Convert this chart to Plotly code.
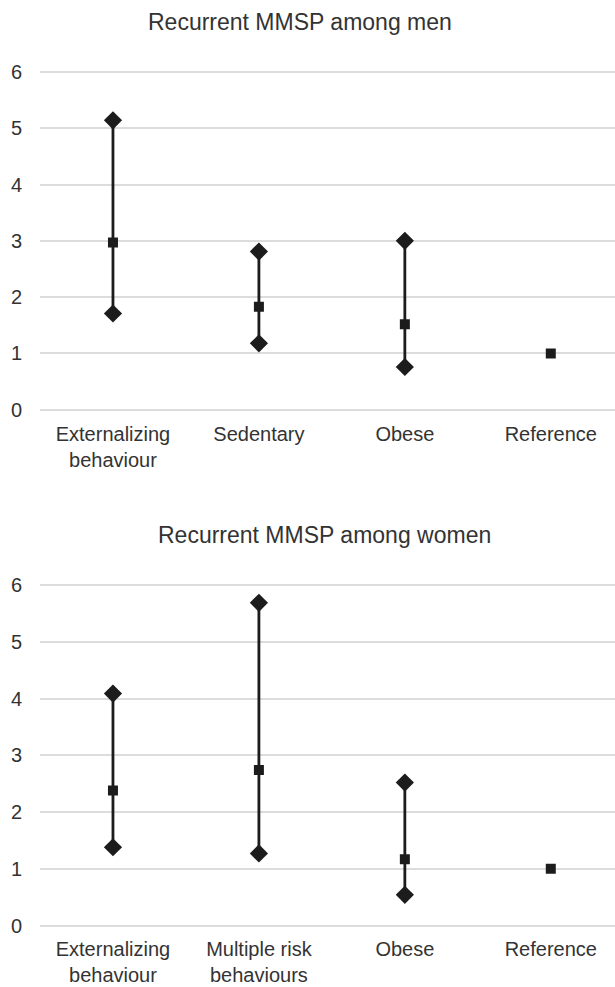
import plotly.graph_objects as go

# ---- data ----
men_categories = ["Externalizing<br>behaviour", "Sedentary", "Obese", "Reference"]
men_or = [2.97, 1.83, 1.52, 1.0]
men_lo = [1.71, 1.18, 0.76, None]
men_hi = [5.14, 2.81, 3.00, None]

women_categories = ["Externalizing<br>behaviour", "Multiple risk<br>behaviours", "Obese", "Reference"]
women_or = [2.38, 2.74, 1.17, 1.0]
women_lo = [1.38, 1.27, 0.54, None]
women_hi = [4.09, 5.69, 2.52, None]

y_ticks = [0, 1, 2, 3, 4, 5, 6]
titles = ["Recurrent MMSP among men", "Recurrent MMSP among women"]

INK = "#1c1c1c"
TXT = "#333333"
GRID = "#dcdcdc"
FONT = "Liberation Sans, Arial, sans-serif"

fig = go.Figure()

panels = [
    (men_categories, men_or, men_lo, men_hi, "x", "y"),
    (women_categories, women_or, women_lo, women_hi, "x2", "y2"),
]

for cats, orv, lo, hi, xa, ya in panels:
    xs = list(range(len(cats)))
    plus = [(h - m) if h is not None else 0 for h, m in zip(hi, orv)]
    minus = [(m - l) if l is not None else 0 for l, m in zip(lo, orv)]
    vis = [h is not None for h in hi]
    # whiskers via error bars
    fig.add_trace(go.Scatter(
        x=xs, y=orv, mode="markers", xaxis=xa, yaxis=ya,
        marker=dict(symbol="square", size=10, color=INK),
        error_y=dict(type="data", symmetric=False, array=plus, arrayminus=minus,
                     color=INK, thickness=2.8, width=0, visible=True),
        showlegend=False, hoverinfo="skip",
    ))
    dx = [x for x, v in zip(xs, vis) if v]
    fig.add_trace(go.Scatter(
        x=dx + dx, y=[l for l in lo if l is not None] + [h for h in hi if h is not None],
        mode="markers", xaxis=xa, yaxis=ya,
        marker=dict(symbol="diamond", size=14, color=INK),
        showlegend=False, hoverinfo="skip",
    ))

H = 987
W_plot = 615 - 40


def fy(px):
    return 1 - px / H


def fx(px):
    return (px - 40) / W_plot


xaxis_common = dict(
    tickmode="array", tickvals=[0, 1, 2, 3],
    range=[-0.5, 3.44], showgrid=False, zeroline=False, showline=False,
    ticks="", ticklabelstandoff=8, automargin=False,
    tickfont=dict(size=20, color=TXT, family=FONT),
)
yaxis_common = dict(
    range=[-0.03, 6.03], tickvals=y_ticks, showgrid=True, gridcolor=GRID, gridwidth=2,
    zeroline=False, showline=False, ticks="", ticklabelstandoff=17, automargin=False,
    tickfont=dict(size=20, color=TXT, family=FONT),
)

fig.update_layout(
    width=615, height=H,
    margin=dict(l=40, r=0, t=0, b=0),
    paper_bgcolor="white", plot_bgcolor="white",
    font=dict(family=FONT, color=TXT),
    xaxis=dict(**xaxis_common, ticktext=men_categories, anchor="y", domain=[0, 1]),
    yaxis=dict(**yaxis_common, anchor="x", domain=[fy(411.5), fy(70.2)]),
    xaxis2=dict(**xaxis_common, ticktext=women_categories, anchor="y2", domain=[0, 1]),
    yaxis2=dict(**yaxis_common, anchor="x2", domain=[fy(927.2), fy(583.5)]),
    annotations=[
        dict(text=titles[0], x=fx(300), y=fy(22), xref="paper", yref="paper", showarrow=False,
             xanchor="center", yanchor="middle", font=dict(size=23, color=TXT, family=FONT)),
        dict(text=titles[1], x=fx(324), y=fy(535), xref="paper", yref="paper", showarrow=False,
             xanchor="center", yanchor="middle", font=dict(size=23, color=TXT, family=FONT)),
    ],
)

fig.write_html("out.html")
